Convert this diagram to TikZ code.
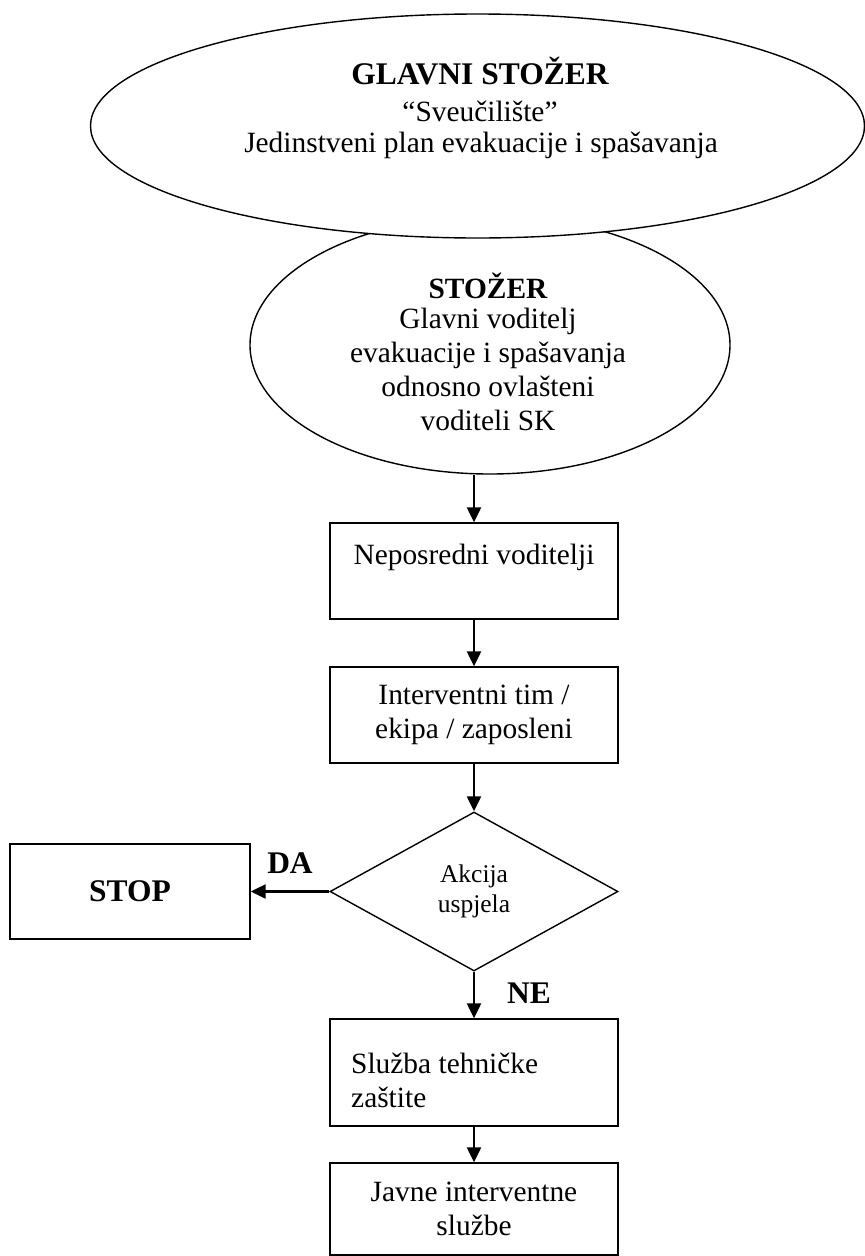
\documentclass[tikz,border=0pt]{standalone}
\usepackage{fontspec}
\setmainfont{Liberation Serif}
\usetikzlibrary{shapes.geometric,arrows.meta}
\newcommand\bodyf{\fontsize{29.4}{33.8}\selectfont}
\newcommand\titlef{\fontsize{31.5}{36}\selectfont\bfseries}
\newcommand\smallf{\fontsize{25.5}{30}\selectfont}
\tikzset{
  shp/.style={draw, line width=1.4pt},
  boxn/.style={shp, rectangle, minimum width=288pt, inner sep=0pt, align=center, font=\bodyf},
  ell/.style={shp, ellipse, fill=white, inner sep=0pt},
  arr/.style={line width=2.3pt, -{Triangle[length=15pt,width=14pt]}},
  txt/.style={anchor=base, inner sep=0pt, font=\bodyf},
  lbl/.style={inner sep=0pt, font=\titlef},
}
\begin{document}
\begin{tikzpicture}[x=1pt,y=-1pt]
\useasboundingbox (0,0) rectangle (865,1256);
% second ellipse (below), then top ellipse covering its top
\node[ell, minimum width=480pt, minimum height=258pt] (e2) at (490,345) {};
\node[ell, minimum width=774pt, minimum height=224pt] (e1) at (477.5,126) {};
% top ellipse text
\node[txt, font=\titlef] (e1a) at (480,84) {GLAVNI STOŽER};
\node[txt] (e1b) at (480,121) {“Sveučilište”};
\node[txt] (e1c) at (481,152) {Jedinstveni plan evakuacije i spašavanja};
% second ellipse text
\node[txt, font=\bodyf\bfseries] (e2a) at (488,298) {STOŽER};
\node[txt] (e2b) at (488,328) {Glavni voditelj};
\node[txt] (e2c) at (488,362) {evakuacije i spašavanja};
\node[txt] (e2d) at (488,396) {odnosno ovlašteni};
\node[txt] (e2e) at (488,430) {voditeli SK};
% boxes
\node[boxn, minimum height=96pt] (b1) at (474,571) {Neposredni voditelji\\\mbox{}};
\node[boxn, minimum height=96pt] (b2) at (474,715) {Interventni tim /\\ekipa / zaposleni};
\node[shp, diamond, minimum width=288pt, minimum height=159pt, inner sep=0pt, align=center, font=\smallf] (d) at (474,891.5) {Akcija\\uspjela};
\node[shp, rectangle, minimum width=240pt, minimum height=95pt, inner sep=0pt, font=\titlef] (s) at (130,891.5) {STOP};
\node[boxn, minimum height=107pt] (b3) at (474,1072.5) {};
\node[txt, anchor=base west] (b3a) at (351,1073) {Služba tehničke};
\node[txt, anchor=base west] (b3b) at (351,1107) {zaštite};
\node[boxn, minimum height=92pt] (b4) at (474,1209) {Javne interventne\\službe};
% connectors
\draw[arr] (e2.south -| b1.north) -- (b1.north);
\draw[arr] (b1.south) -- (b2.north);
\draw[arr] (b2.south) -- (d.north);
\draw[arr] (d.west) -- (s.east);
\draw[arr] (d.south) -- (b3.north);
\draw[arr] (b3.south) -- (b4.north);
% labels
\node[lbl] (da) at (290,863) {DA};
\node[lbl] (ne) at (529,993) {NE};
\end{tikzpicture}
\end{document}
